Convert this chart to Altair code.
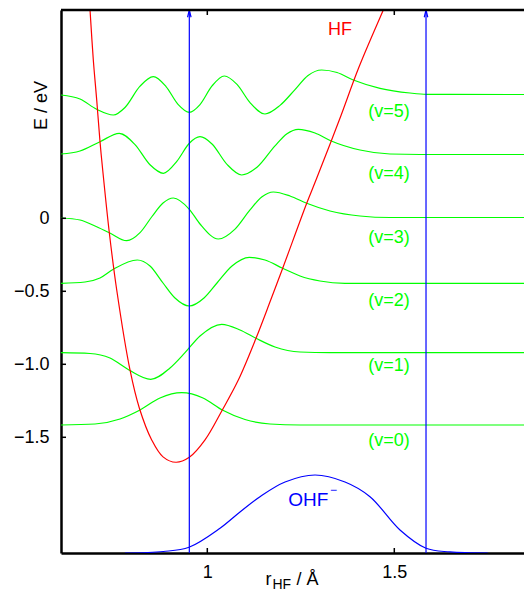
import altair as alt
import pandas as pd

# ---------------- data ----------------
X_MIN, X_MAX = 0.6088, 1.8468
Y_MIN, Y_MAX = -2.2925, 1.4267
W, H = 463, 543

hf_r = [0.6829, 0.6864, 0.6952, 0.7043, 0.7131, 0.7203, 0.7380, 0.7578, 0.7933, 0.8182,
        0.8513, 0.8816, 0.9163, 0.9519, 0.9939, 1.0401, 1.0829, 1.1302, 1.1695, 1.2016,
        1.2658, 1.2906, 1.3529, 1.4056, 1.4706, 1.4933]
hf_e = [1.564, 1.427, 1.084, 0.810, 0.525, 0.331, -0.099, -0.491, -1.039, -1.299,
        -1.518, -1.634, -1.671, -1.637, -1.518, -1.313, -1.108, -0.822, -0.560, -0.342,
        0.103, 0.262, 0.673, 1.036, 1.427, 1.564]

v0_r = [0.6088, 0.6997, 0.7666, 0.8201, 0.8735, 0.9316, 0.9885, 1.0401, 1.1008, 1.1676, 1.2479, 1.8500]
v0_e = [-1.4158, -1.4089, -1.3747, -1.3130, -1.2308, -1.1945, -1.2308, -1.3130, -1.3781, -1.4089, -1.4158, -1.4158]

v1_r = [0.6088, 0.6864, 0.7398, 0.7906, 0.8487, 0.9003, 0.9404, 0.9805, 1.0385, 1.0874, 1.1302, 1.1810,
        1.2479, 1.3281, 1.8500]
v1_e = [-0.9205, -0.9260, -0.9568, -1.0390, -1.1027, -1.0253, -0.9205, -0.8062, -0.7260, -0.7651, -0.8219,
        -0.8815, -0.9158, -0.9205, -0.9205]

v2_r = [0.6088, 0.6730, 0.7131, 0.7487, 0.8128, 0.8468, 0.8816, 0.9136, 0.9519, 0.9912, 1.0259, 1.0660,
        1.1123, 1.1543, 1.2016, 1.2479, 1.3013, 1.3682, 1.8500]
v2_e = [-0.4452, -0.4363, -0.4089, -0.3493, -0.2856, -0.3267, -0.4432, -0.5459, -0.6007, -0.5459, -0.4432,
        -0.3267, -0.2671, -0.2856, -0.3425, -0.3952, -0.4295, -0.4452, -0.4452]

v3_r = [0.6088, 0.6596, 0.6997, 0.7380, 0.7845, 0.8201, 0.8521, 0.8816, 0.9091, 0.9519, 0.9805, 1.0294,
        1.0741, 1.1142, 1.1463, 1.1765, 1.2211, 1.2658, 1.3281, 1.4083, 1.4885, 1.8500]
v3_e = [0.0021, -0.0116, -0.0527, -0.0986, -0.1534, -0.0986, 0.0123, 0.1048, 0.1390, 0.0616, -0.0390,
        -0.1418, -0.0740, 0.0575, 0.1473, 0.1801, 0.1527, 0.1027, 0.0500, 0.0158, 0.0055, 0.0055]

v4_r = [0.6088, 0.6596, 0.7131, 0.7647, 0.8067, 0.8468, 0.8824, 0.9190, 0.9519, 0.9805, 1.0126, 1.0527,
        1.0920, 1.1329, 1.1810, 1.2131, 1.2433, 1.2880, 1.3299, 1.4083, 1.4885, 1.5687, 1.8500]
v4_e = [0.4404, 0.4610, 0.5247, 0.5822, 0.5048, 0.3664, 0.3082, 0.3918, 0.5137, 0.5589, 0.5089, 0.3692,
        0.2966, 0.3493, 0.4959, 0.5795, 0.6096, 0.5842, 0.5315, 0.4678, 0.4404, 0.4370, 0.4370]

v5_r = [0.6088, 0.6596, 0.7043, 0.7487, 0.7799, 0.8201, 0.8556, 0.8896, 0.9217, 0.9519, 0.9805, 1.0126,
        1.0455, 1.0794, 1.1142, 1.1543, 1.1944, 1.2345, 1.2693, 1.3059, 1.3468, 1.3904, 1.4618, 1.5420,
        1.5866, 1.8500]
v5_e = [0.8445, 0.8171, 0.7466, 0.7075, 0.7589, 0.9048, 0.9699, 0.9024, 0.7808, 0.7260, 0.7791, 0.9064,
        0.9747, 0.9171, 0.7925, 0.7144, 0.7733, 0.8815, 0.9781, 1.0158, 0.9986, 0.9473, 0.8904, 0.8582,
        0.8493, 0.8479]

ohf_r = [0.7800, 0.8824, 0.9511, 1.0340, 1.0874, 1.1409, 1.2078, 1.2880, 1.3682, 1.4350,
         1.5152, 1.5848, 1.6489, 1.7500]
ohf_e = [-2.2925, -2.2822, -2.2534, -2.1233, -2.0116, -1.9068, -1.8062, -1.7582, -1.8062, -1.9068,
         -2.1350, -2.2603, -2.2850, -2.2925]

arrow_r = [0.9519, 1.5848]

v_labels = ["(v=0)", "(v=1)", "(v=2)", "(v=3)", "(v=4)", "(v=5)"]
v_label_e = [-1.5562, -1.0459, -0.6007, -0.1671, 0.2671, 0.6938]
v_label_r = 1.4858

x_tick_values = [1.0, 1.5]
y_tick_values = [0.0, -0.5, -1.0, -1.5]

GREEN, RED, BLUE = "#00ff00", "#ff0000", "#0000ff"
FONT = "Liberation Sans"
FS = 18

# ---------------- frames ----------------
waves = []
for k, (rr, ee) in enumerate([(v0_r, v0_e), (v1_r, v1_e), (v2_r, v2_e),
                              (v3_r, v3_e), (v4_r, v4_e), (v5_r, v5_e)]):
    for i, (a, b) in enumerate(zip(rr, ee)):
        waves.append({"r": a, "E": b, "v": k, "i": i})
wave_df = pd.DataFrame(waves)
hf_df = pd.DataFrame({"r": hf_r, "E": hf_e, "i": range(len(hf_r))})
ohf_df = pd.DataFrame({"r": ohf_r, "E": ohf_e, "i": range(len(ohf_r))})
arrow_df = pd.DataFrame({"r": arrow_r, "E": [Y_MIN] * 2, "E2": [Y_MAX] * 2})
vlab_df = pd.DataFrame({"r": [v_label_r] * 6, "E": v_label_e, "t": v_labels})
xt_df = pd.DataFrame({"r": x_tick_values})
yt_df = pd.DataFrame({"E": y_tick_values})

xs = alt.Scale(domain=[X_MIN, X_MAX], nice=False, zero=False)
ys = alt.Scale(domain=[Y_MIN, Y_MAX], nice=False, zero=False)

x_axis = alt.Axis(values=x_tick_values, format="~g", title=None, grid=False,
                  domainColor="black", domainWidth=2.5, ticks=False, tickSize=0,
                  labelFont=FONT, labelFontSize=FS, labelColor="black",
                  labelPadding=10.7, labelFlush=False)
y_axis = alt.Axis(values=y_tick_values, grid=False,
                  labelExpr="datum.value == 0 ? '0' : '\u2212' + format(abs(datum.value), '.1f')",
                  domainColor="black", domainWidth=2.5, ticks=False, tickSize=0,
                  labelFont=FONT, labelFontSize=FS, labelColor="black", labelPadding=12,
                  labelFlush=False,
                  title="E / eV", titleAngle=270, titleX=-14.5, titleY=95,
                  titleAlign="center", titleBaseline="alphabetic",
                  titleFont=FONT, titleFontSize=FS, titleFontWeight="normal", titleColor="black")

X = alt.X("r:Q", scale=xs, axis=x_axis)
Y = alt.Y("E:Q", scale=ys, axis=y_axis)

green = alt.Chart(wave_df).mark_line(color=GREEN, strokeWidth=1.2, interpolate="monotone", clip=True).encode(
    x=X, y=Y, detail="v:N", order="i:Q")
red = alt.Chart(hf_df).mark_line(color=RED, strokeWidth=1.2, interpolate="catmull-rom", clip=True).encode(
    x=X, y=Y, order="i:Q")
blue = alt.Chart(ohf_df).mark_line(color=BLUE, strokeWidth=1.2, interpolate="catmull-rom", clip=True).encode(
    x=X, y=Y, order="i:Q")
arrows = alt.Chart(arrow_df).mark_rule(color=BLUE, strokeWidth=1.2).encode(x=X, y=Y, y2="E2:Q")
heads = alt.Chart(arrow_df).mark_point(shape="M-0.24,1L0,0L0.24,1", size=210, filled=False,
                                       color=BLUE, strokeWidth=1.2, opacity=1).encode(
    x=X, y=alt.Y("E2:Q", scale=ys, axis=y_axis))
vlabels = alt.Chart(vlab_df).mark_text(color=GREEN, font=FONT, fontSize=FS, align="center",
                                       baseline="alphabetic").encode(x=X, y=Y, text="t:N")
hf_label = alt.Chart(pd.DataFrame({"r": [1.3548], "E": [1.2555], "t": ["HF"]})).mark_text(
    color=RED, font=FONT, fontSize=FS, align="center", baseline="alphabetic").encode(x=X, y=Y, text="t:N")
ohf_label = alt.Chart(pd.DataFrame({"r": [1.2701], "E": [-1.9705], "t": ["OHF"]})).mark_text(
    color=BLUE, font=FONT, fontSize=19, align="center", baseline="alphabetic").encode(x=X, y=Y, text="t:N")
ohf_sup = alt.Chart(pd.DataFrame({"r": [1.3372], "E": [-1.8918], "t": ["\u2212"]})).mark_text(
    color=BLUE, font=FONT, fontSize=12, align="center", baseline="alphabetic").encode(x=X, y=Y, text="t:N")

# inward ticks and top frame
xt_bot = alt.Chart(xt_df).mark_rule(color="black", strokeWidth=1.5).encode(
    x=X, y=alt.value(H), y2=alt.value(H - 5))
xt_top = alt.Chart(xt_df).mark_rule(color="black", strokeWidth=1.5).encode(
    x=X, y=alt.value(0), y2=alt.value(5))
yt_left = alt.Chart(yt_df).mark_rule(color="black", strokeWidth=1.5).encode(
    y=Y, x=alt.value(0), x2=alt.value(5))
top_frame = alt.Chart(pd.DataFrame({"a": [0]})).mark_rule(color="black", strokeWidth=2.5).encode(
    x=alt.value(0), x2=alt.value(W), y=alt.value(0))

# x-axis title  r_HF / Å
t_r = alt.Chart(pd.DataFrame({"t": ["r"]})).mark_text(
    font=FONT, fontSize=FS, align="left", baseline="alphabetic", color="black").encode(
    x=alt.value(204.5), y=alt.value(574.5), text="t:N")
t_sub = alt.Chart(pd.DataFrame({"t": ["HF"]})).mark_text(
    font=FONT, fontSize=14, align="left", baseline="alphabetic", color="black").encode(
    x=alt.value(211.5), y=alt.value(578.5), text="t:N")
t_unit = alt.Chart(pd.DataFrame({"t": ["/ \u00c5"]})).mark_text(
    font=FONT, fontSize=FS, align="left", baseline="alphabetic", color="black").encode(
    x=alt.value(235.5), y=alt.value(574.5), text="t:N")

chart = alt.layer(
    green, red, blue, arrows, heads, vlabels, hf_label, ohf_label, ohf_sup,
    xt_bot, xt_top, yt_left, top_frame, t_r, t_sub, t_unit
).properties(
    width=W, height=H,
    autosize=alt.AutoSizeParams(type="none"),
    padding={"left": 61, "top": 10, "right": 0, "bottom": 37},
    background="white",
).configure_view(stroke=None)

chart.save("out.html", embed_options={"renderer": "svg", "actions": False})
